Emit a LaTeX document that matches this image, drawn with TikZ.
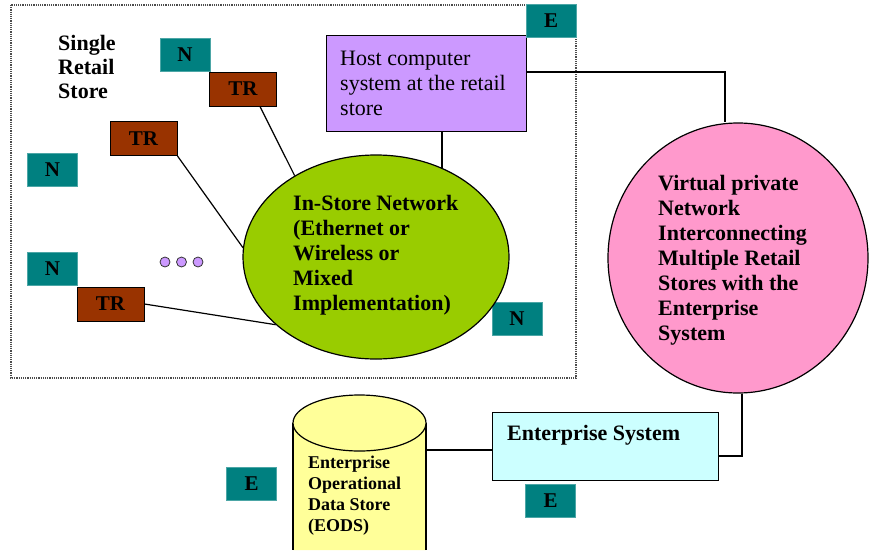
\documentclass[tikz,border=0pt]{standalone}
\usepackage{fontspec}
\setmainfont{Liberation Serif}
\usetikzlibrary{shapes.geometric}
\definecolor{teal1}{RGB}{0,128,128}
\definecolor{brown1}{RGB}{153,51,0}
\definecolor{lilac}{RGB}{204,153,255}
\definecolor{lime1}{RGB}{153,204,0}
\definecolor{pink1}{RGB}{255,153,204}
\definecolor{cyan1}{RGB}{204,255,255}
\definecolor{yellow1}{RGB}{255,255,153}
\tikzset{
  nbox/.style={fill=teal1, draw=teal1!70!white, line width=0.6pt, minimum width=50pt, minimum height=33pt, inner sep=0pt, font=\fontsize{21}{24}\selectfont\bfseries},
  trbox/.style={fill=brown1, draw=black, line width=1pt, minimum width=67pt, minimum height=34pt, inner sep=0pt, font=\fontsize{21}{24}\selectfont\bfseries},
  btxt/.style={align=left, inner sep=0pt, font=\fontsize{22}{25}\selectfont\bfseries},
  conn/.style={draw=black, line width=1.2pt},
  dotc/.style={circle, fill=lilac, draw=black!80, line width=0.8pt, minimum size=10pt, inner sep=0pt}
}
\begin{document}
\begin{tikzpicture}[x=1pt,y=-1pt]
\useasboundingbox (0,0) rectangle (869,551);
% dotted frame
\draw[densely dotted, line width=1.2pt, black!70] (11,5) rectangle (576,378);
% store title
\node[btxt, anchor=west, font=\fontsize{22}{24}\selectfont\bfseries] (title) at (58,67) {Single\\Retail\\Store};
% N boxes
\node[nbox] (n1) at (185,54.5) {N};
\node[nbox] (n2) at (52.5,170) {N};
\node[nbox] (n3) at (52.5,268.5) {N};
\node[nbox] (n4) at (517,318.5) {N};
% TR boxes
\node[trbox] (tr1) at (243,89) {TR};
\node[trbox] (tr2) at (143.5,138.5) {TR};
\node[trbox] (tr3) at (110.5,304) {TR};
% dots
\node[dotc] (d1) at (165,262) {};
\node[dotc] (d2) at (181.5,262) {};
\node[dotc] (d3) at (198,262) {};
% host
\node[fill=lilac, draw=black, line width=1pt, minimum width=200pt, minimum height=95pt, inner sep=0pt] (host) at (426,83.5) {};
\node[align=left, anchor=west, inner sep=0pt, font=\fontsize{22}{25}\selectfont] (hosttxt) at (340,83) {Host computer\\system at the retail\\store};
\node[nbox] (e1) at (551,21) {E};
% in-store network
\node[ellipse, fill=lime1, draw=black, line width=1.2pt, minimum width=266pt, minimum height=204pt, inner sep=0pt] (isn) at (376,257) {};
\node[btxt, anchor=west] (isntxt) at (293,255) {In-Store Network\\(Ethernet or\\Wireless or\\Mixed\\Implementation)};
% VPN
\node[ellipse, fill=pink1, draw=black, line width=1.2pt, minimum width=260pt, minimum height=270pt, inner sep=0pt] (vpn) at (738,258) {};
\node[btxt, anchor=west] (vpntxt) at (658,260) {Virtual private\\Network\\Interconnecting\\Multiple Retail\\Stores with the\\Enterprise\\System};
% enterprise system
\node[fill=cyan1, draw=black, line width=1pt, minimum width=226pt, minimum height=68pt, inner sep=0pt] (ent) at (605,446) {};
\node[btxt, anchor=west] (enttxt) at (507,435) {Enterprise System};
\node[nbox] (e2) at (550.5,500.5) {E};
\node[nbox] (e3) at (251.5,483.5) {E};
% EODS cylinder
\fill[yellow1] (293,423) -- (293,550) -- (426,550) -- (426,423) arc[start angle=0, end angle=-180, x radius=66.5, y radius=28] -- cycle;
\draw[line width=1.2pt] (293,423) -- (293,550) (426,423) -- (426,550);
\draw[line width=1.2pt, fill=yellow1] (359.5,423) ellipse[x radius=66.5, y radius=28];
\coordinate (eodsR) at (426,450);
\node[align=left, anchor=west, inner sep=0pt, font=\fontsize{18}{21}\selectfont\bfseries] (eodstxt) at (308,496) {Enterprise\\Operational\\Data Store\\(EODS)};
% connectors
\draw[conn] ([xshift=16pt]host.south) -- ([xshift=16pt]host.south |- isn.53);
\draw[conn] ([xshift=17pt]tr1.south) -- (isn.135);
\draw[conn] (tr2.south east) -- (isn.176);
\draw[conn] (tr3.east) -- (isn.214);
\draw[conn] ([yshift=11.5pt]host.east) -| ([xshift=-13pt]vpn.north);
\draw[conn] ([xshift=4pt]vpn.south) |- ([yshift=-10pt]ent.east);
\draw[conn] (eodsR) -- (ent.west |- eodsR);
\end{tikzpicture}
\end{document}
